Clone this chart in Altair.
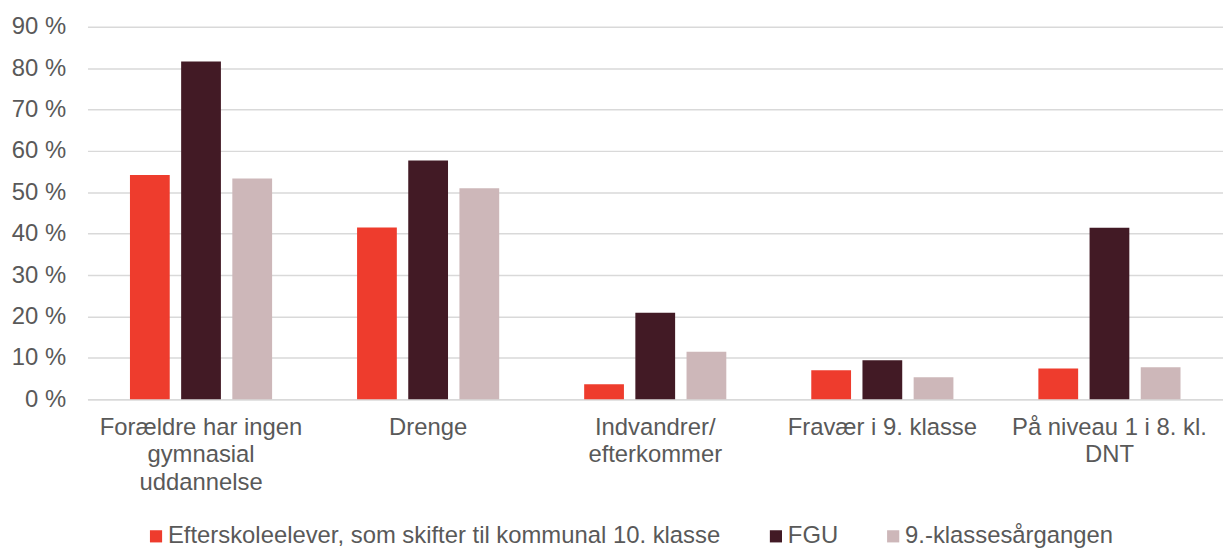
import altair as alt
import pandas as pd

categories = ["Forældre har ingen|gymnasial|uddannelse", "Drenge", "Indvandrer/|efterkommer",
              "Fravær i 9. klasse", "På niveau 1 i 8. kl.|DNT"]
series = ["Efterskoleelever, som skifter til kommunal 10. klasse", "FGU", "9.-klassesårgangen"]
efterskole = [54.2, 41.5, 3.6, 7.0, 7.4]
fgu = [81.6, 57.7, 20.9, 9.4, 41.4]
aargang = [53.3, 51.0, 11.5, 5.3, 7.7]
colors = ["#EE3C2D", "#421A25", "#CDB7B9"]
y_ticks = [0, 10, 20, 30, 40, 50, 60, 70, 80, 90]

rows = []
for s, vals in zip(series, [efterskole, fgu, aargang]):
    for c, v in zip(categories, vals):
        rows.append({"kategori": c, "serie": s, "andel": v})
df = pd.DataFrame(rows)

font = "Liberation Sans"
fs = 24
chart = alt.Chart(df).mark_bar().encode(
    x=alt.X("kategori:N", sort=categories, title=None,
            scale=alt.Scale(paddingInner=0, paddingOuter=0),
            axis=alt.Axis(labelAngle=0, labelExpr="split(datum.label, '|')",
                          labelFont=font, labelFontSize=fs, labelColor="#595959",
                          labelLineHeight=28, labelPadding=16, ticks=False,
                          domain=True, domainColor="#d9d9d9", domainWidth=1.5,
                          labelBaseline="top", labelOverlap=False, labelLimit=300)),
    xOffset=alt.XOffset("serie:N", sort=series,
                        scale=alt.Scale(paddingInner=0.223, paddingOuter=0.83)),
    y=alt.Y("andel:Q", title=None,
            scale=alt.Scale(domain=[0, 90], nice=False),
            axis=alt.Axis(values=y_ticks, labelExpr="datum.value + ' %'",
                          labelFont=font, labelFontSize=fs, labelColor="#595959",
                          labelPadding=22, ticks=False, domain=False,
                          grid=True, gridColor="#d9d9d9", gridWidth=1.5)),
    color=alt.Color("serie:N", sort=series,
                    scale=alt.Scale(domain=series, range=colors),
                    legend=alt.Legend(title=None, orient="none", direction="horizontal",
                                      legendX=57, legendY=501,
                                      symbolType="square", symbolSize=150,
                                      symbolStrokeWidth=0, symbolOpacity=1,
                                      labelFont=font, labelFontSize=fs,
                                      labelColor="#595959", columnPadding=43,
                                      labelOffset=0, labelLimit=700)),
).properties(
    width=1143, height=375,
    padding={"left": 80, "top": 17, "right": 0, "bottom": 160},
    autosize=alt.AutoSizeParams(type="none"),
).configure_view(stroke=None)

chart.save("out.html", embed_options={"renderer": "svg", "actions": False})
